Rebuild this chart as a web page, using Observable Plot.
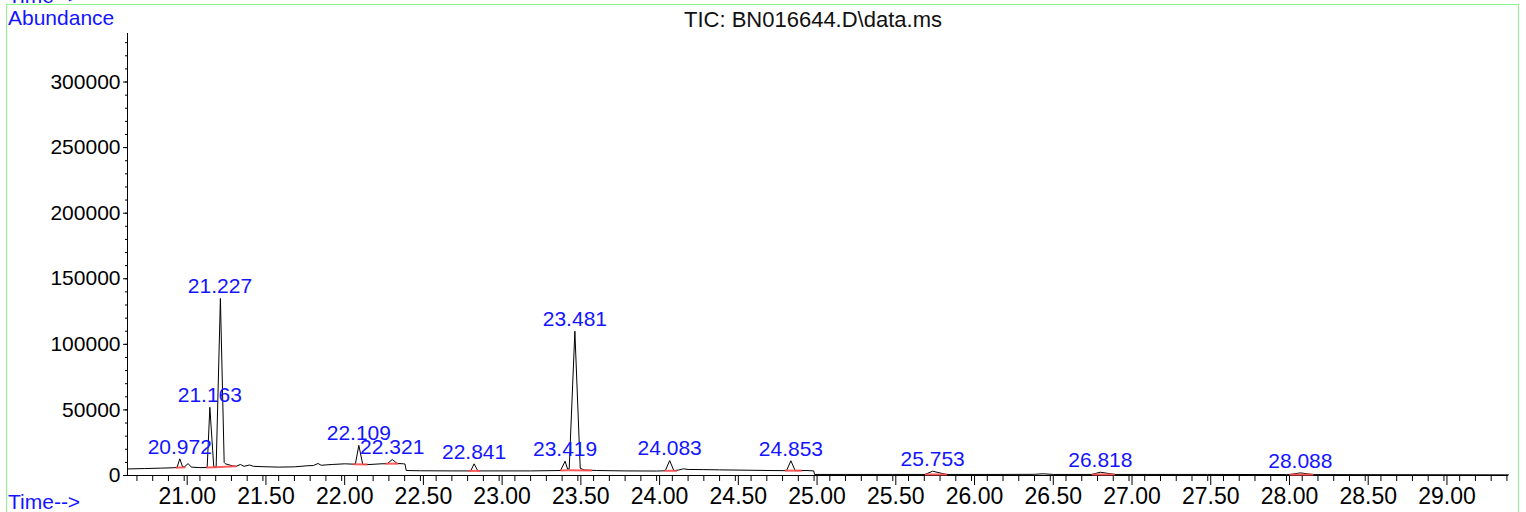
<!DOCTYPE html>
<html>
<head>
<meta charset="utf-8">
<script src="https://cdn.jsdelivr.net/npm/d3@7"></script>
<script src="https://cdn.jsdelivr.net/npm/@observablehq/plot@0.6"></script>
<style>
  html, body { margin: 0; padding: 0; background: #fff; }
  #wrap { position: relative; width: 1526px; height: 512px; overflow: hidden; font-family: "Liberation Sans", Arial, sans-serif; }
  .lbl { position: absolute; line-height: 1; white-space: nowrap; }
  #frame { position: absolute; left: 6px; top: 4px; width: 1513px; height: 540px; border: 1.5px solid #8cf58c; box-sizing: border-box; pointer-events: none; }
</style>
</head>
<body>
<div id="wrap">
  <div id="chart"></div>
  <div id="frame"></div>
  <div class="lbl" style="left:8px; top:-15px; font-size:21px; color:#1414ff;">Time--&gt;</div>
  <div class="lbl" style="left:8px; top:7px; font-size:21px; color:#1414ff;">Abundance</div>
  <div class="lbl" id="title" style="left:0; width:1626px; text-align:center; top:9px; font-size:22px; color:#111;">TIC: BN016644.D\data.ms</div>
  <div class="lbl" style="left:8px; top:491px; font-size:21px; color:#1414ff;">Time--&gt;</div>
</div>
<script>
// Trace: retention time (min) and abundance
const times = [20.64, 20.75, 20.85, 20.93, 20.955, 20.972, 20.99, 21.005, 21.025, 21.045, 21.10, 21.146, 21.163, 21.188, 21.203, 21.230, 21.254, 21.262, 21.305, 21.33, 21.357, 21.38, 21.415, 21.44, 21.50, 21.60, 21.70, 21.78, 21.82, 21.85, 21.87, 21.94, 22.02, 22.087, 22.109, 22.134, 22.18, 22.25, 22.29, 22.321, 22.352, 22.394, 22.402, 22.41, 22.50, 22.70, 22.82, 22.841, 22.865, 23.00, 23.20, 23.39, 23.419, 23.435, 23.445, 23.481, 23.515, 23.54, 23.62, 23.80, 24.00, 24.055, 24.083, 24.11, 24.14, 24.171, 24.20, 24.30, 24.40, 24.60, 24.72, 24.825, 24.853, 24.88, 24.955, 24.998, 25.003, 25.20, 25.50, 25.705, 25.753, 25.84, 26.20, 26.40, 26.455, 26.52, 26.763, 26.818, 26.91, 27.50, 28.00, 28.02, 28.088, 28.17, 28.80, 29.41];
const abundances = [5000, 5300, 5600, 5900, 6200, 12700, 6600, 6900, 9100, 6400, 6000, 6100, 52000, 6300, 6500, 135000, 9900, 8900, 7400, 7000, 8400, 7000, 8000, 7000, 6700, 6400, 6600, 7400, 7600, 9150, 7800, 8400, 8900, 8600, 23000, 8400, 8400, 8900, 9000, 12200, 9200, 8900, 8800, 3800, 3600, 3500, 3500, 8900, 3500, 3500, 3500, 3800, 10900, 4800, 5000, 110000, 5500, 4200, 3800, 3500, 3400, 3600, 11400, 3600, 4200, 5100, 4600, 4500, 4300, 4000, 3800, 3700, 11200, 3700, 3800, 3500, 800, 800, 800, 800, 3300, 800, 800, 900, 1300, 800, 800, 2500, 800, 800, 700, 700, 2000, 700, 600, 500];

// Labelled peaks
const peakRT = [20.972, 21.163, 21.227, 22.109, 22.321, 22.841, 23.419, 23.481, 24.083, 24.853, 25.753, 26.818, 28.088];
const peakApex = [12700, 52000, 135000, 23000, 12200, 8900, 10900, 110000, 11400, 11200, 3300, 2500, 2000];
const peakLabels = ["20.972", "21.163", "21.227", "22.109", "22.321", "22.841", "23.419", "23.481", "24.083", "24.853", "25.753", "26.818", "28.088"];

// Integration baselines (red)
const intStart = [20.945, 21.14, 21.195, 22.075, 22.278, 22.805, 23.39, 23.44, 24.05, 24.815, 25.705, 26.765, 28.02];
const intEnd   = [21.008, 21.195, 21.33, 22.164, 22.36, 22.88, 23.44, 23.59, 24.13, 24.922, 25.845, 26.91, 28.17];
const intLevelStart = [6000, 6100, 6300, 8500, 9000, 3500, 3800, 4000, 3600, 3700, 800, 800, 700];
const intLevelEnd   = [6300, 6300, 7000, 8400, 9000, 3500, 4000, 3800, 3600, 3700, 800, 800, 700];

// Axis ticks
const xMajorTicks = [21, 21.5, 22, 22.5, 23, 23.5, 24, 24.5, 25, 25.5, 26, 26.5, 27, 27.5, 28, 28.5, 29];
const xMinorTicks = d3.range(207, 295).map(d => d / 10);
const yMajorTicks = [0, 50000, 100000, 150000, 200000, 250000, 300000];
const yMinorTicks = d3.range(0, 34).map(d => d * 10000);

const xDomain = [20.64, 29.41];
const yDomain = [0, 337000];

const trace = times.map((t, i) => ({t, v: abundances[i]}));
const peaks = peakRT.map((t, i) => ({t, v: peakApex[i], label: peakLabels[i]}));
const integ = intStart.map((s, i) => ({x1: s, x2: intEnd[i], y1: intLevelStart[i], y2: intLevelEnd[i]}));

const font = "'Liberation Sans', Arial, sans-serif";

const chart = Plot.plot({
  width: 1526,
  height: 512,
  marginLeft: 127,
  marginRight: 18,
  marginTop: 33,
  marginBottom: 37,
  style: {fontFamily: font, fontSize: "21px", background: "transparent", color: "black", overflow: "visible"},
  x: {domain: xDomain, label: null},
  y: {domain: yDomain, label: null},
  marks: [
    Plot.axisX({ticks: xMinorTicks, tickSize: 6, tickFormat: () => "", label: null}),
    Plot.axisX({ticks: xMajorTicks, tickSize: 10, tickPadding: 2, tickFormat: d => d.toFixed(2), label: null, dx: 3, fontSize: 23}),
    Plot.axisY({ticks: yMinorTicks, tickSize: 2, tickFormat: () => "", label: null}),
    Plot.axisY({ticks: yMajorTicks, tickSize: 4, tickPadding: 3, tickFormat: d => String(d), label: null}),
    Plot.ruleY([0], {stroke: "black", strokeWidth: 1}),
    Plot.ruleX([xDomain[0]], {stroke: "black", strokeWidth: 1}),
    Plot.line(trace, {x: "t", y: "v", stroke: "black", strokeWidth: 1}),
    Plot.link(integ, {x1: "x1", x2: "x2", y1: "y1", y2: "y2", stroke: "#ff4a4a", strokeWidth: 2, strokeOpacity: 0.9}),
    Plot.text(peaks, {x: "t", y: "v", text: "label", fill: "#1414ff", fontSize: 21, lineAnchor: "middle", dy: -12, fontFamily: font})
  ]
});
document.getElementById("chart").appendChild(chart);
</script>
</body>
</html>
